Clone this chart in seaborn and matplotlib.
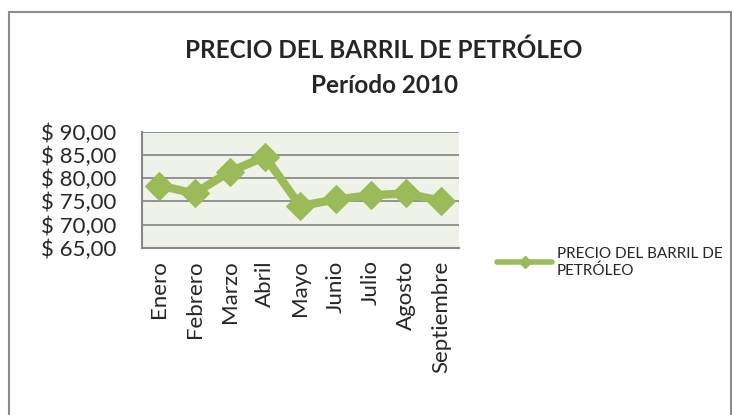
import pandas as pd
import matplotlib
matplotlib.use("Agg")
import matplotlib.pyplot as plt
import seaborn as sns
from matplotlib.patches import Rectangle
from matplotlib.lines import Line2D
from matplotlib.ticker import FuncFormatter

meses = ["Enero", "Febrero", "Marzo", "Abril", "Mayo", "Junio", "Julio", "Agosto", "Septiembre"]
precios = [78.4, 76.7, 81.4, 84.6, 74.0, 75.4, 76.3, 76.7, 75.1]
serie = "PRECIO DEL BARRIL DE PETRÓLEO"

df = pd.DataFrame({"mes": meses, "precio": precios})

sns.set_style("white")
plt.rcParams["font.family"] = ["Lato", "DejaVu Sans"]
verde = "#9BBB59"

fig = plt.figure(figsize=(7.33, 4.15), dpi=100)
ax = fig.add_axes([0.1933, 0.403, 0.4327, 0.2797])
ax.set_facecolor("#EEF2E8")

sns.lineplot(data=df, x="mes", y="precio", ax=ax, color=verde, linewidth=6,
             marker="D", markersize=14, markeredgecolor=verde, sort=False, legend=False)

ax.set_ylim(65, 90)
ax.set_yticks([65, 70, 75, 80, 85, 90])
ax.yaxis.set_major_formatter(FuncFormatter(lambda v, p: ("$ %.2f" % v).replace(".", ",")))
ax.set_xlim(-0.5, len(meses) - 0.5)
ax.set_xticks(range(len(meses)))
ax.set_xticklabels(meses, rotation=90)
ax.set_xticks([i - 0.5 for i in range(len(meses) + 1)], minor=True)
ax.tick_params(axis="x", which="major", length=0, labelsize=16, pad=9)
ax.tick_params(axis="x", which="minor", length=6, color="#888888", width=1.2, direction="out")
ax.tick_params(axis="y", length=7, color="#888888", width=1.2, direction="out", labelsize=16, pad=11)
ax.grid(axis="y", color="#8A8A8A", linewidth=1.3)
ax.set_axisbelow(True)
for s in ["top", "right"]:
    ax.spines[s].set_visible(False)
for s in ["left", "bottom"]:
    ax.spines[s].set_color("#888888")
    ax.spines[s].set_linewidth(1.5)
ax.set_xlabel("")
ax.set_ylabel("")

fig.text(0.524, 0.878, serie, ha="center", va="center", fontsize=17.5, fontweight="bold")
fig.text(0.524, 0.795, "Período 2010", ha="center", va="center", fontsize=17.5, fontweight="bold")

handle = Line2D([0, 1], [0, 0], color=verde, linewidth=4, marker="D", markersize=6)
fig.legend([handle], ["PRECIO DEL BARRIL DE\nPETRÓLEO"], loc="upper left",
           bbox_to_anchor=(0.67, 0.42), frameon=False, fontsize=11,
           handlelength=3.6, handletextpad=0.3, borderaxespad=0)

fig.patches.append(Rectangle((9 / 733, -0.05), 722 / 733, 1.05 - 12 / 415,
                             transform=fig.transFigure, fill=False,
                             edgecolor="#8C8C8C", linewidth=1.5))

fig.savefig("out.png", dpi=100)
